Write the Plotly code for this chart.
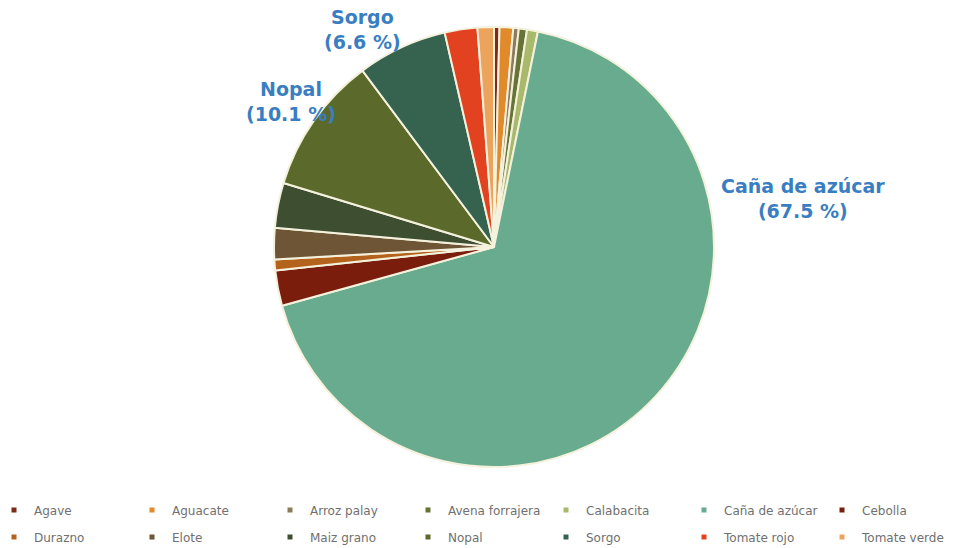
import plotly.graph_objects as go

# Crop shares (%) in legend order; slices run clockwise from 12 o'clock
cultivos = ["Agave", "Aguacate", "Arroz palay", "Avena forrajera", "Calabacita",
            "Caña de azúcar", "Cebolla", "Durazno", "Elote", "Maiz grano",
            "Nopal", "Sorgo", "Tomate rojo", "Tomate verde"]
porcentajes = [0.4, 1.0, 0.4, 0.6, 0.8,
               67.5, 2.6, 0.8, 2.3, 3.3,
               10.1, 6.6, 2.4, 1.2]
colores = ["#7d2a1a", "#e08a2c", "#8c7b5c", "#667436", "#a9b96c",
           "#69ab8f", "#7a1d0d", "#b3631c", "#6e5535", "#3d4e31",
           "#5b6a2b", "#36634f", "#e2421f", "#eca35c"]
destacados = ["Caña de azúcar", "Nopal", "Sorgo"]

W, H = 963, 548
MB = 80                      # bottom margin reserved for the legend rows
HP = H - MB                  # plot-area height
CX, CY, R = 494, 247, 220    # pie centre and radius, px from top-left


def px_x(x):
    return x / W


def px_y(y):
    return (HP - y) / HP


fig = go.Figure()
fig.add_trace(go.Pie(
    labels=cultivos, values=porcentajes, sort=False, direction="clockwise",
    rotation=0, textinfo="none", hoverinfo="label+percent",
    marker=dict(colors=colores, line=dict(color="#f4f1dc", width=2)),
    domain=dict(x=[px_x(CX - R), px_x(CX + R)], y=[px_y(CY + R), px_y(CY - R)]),
    showlegend=False,
))

# Legend entries: two rows of seven, each row its own legend
for i, (nombre, color) in enumerate(zip(cultivos, colores)):
    fig.add_trace(go.Scatter(
        x=[None], y=[None], mode="markers", name=nombre,
        marker=dict(symbol="square", size=5, color=color),
        legend="legend" if i < 7 else "legend2", hoverinfo="skip",
    ))

fuente_leyenda = dict(family="DejaVu Sans", size=12, color="#707070")
base_leyenda = dict(orientation="h", xanchor="left", yanchor="middle",
                    entrywidth=93, entrywidthmode="pixels", itemwidth=30,
                    font=fuente_leyenda, bgcolor="rgba(0,0,0,0)",
                    traceorder="normal", itemclick=False, itemdoubleclick=False)

# Outside labels for the three largest crops
posiciones = {"Caña de azúcar": (803, 198), "Nopal": (291, 101), "Sorgo": (362, 29)}
anotaciones = []
for nombre in destacados:
    v = porcentajes[cultivos.index(nombre)]
    lx, ly = posiciones[nombre]
    anotaciones.append(dict(
        x=px_x(lx), y=px_y(ly), xref="paper", yref="paper", showarrow=False,
        text=f"<b>{nombre}<br>({v:.1f} %)</b>", align="center",
        font=dict(family="DejaVu Sans", size=19, color="#3a7ec2"),
        xanchor="center", yanchor="middle",
    ))

fig.update_layout(
    width=W, height=H, margin=dict(l=0, r=0, t=0, b=MB, autoexpand=False),
    paper_bgcolor="white", plot_bgcolor="white",
    xaxis=dict(visible=False), yaxis=dict(visible=False),
    legend=dict(base_leyenda, x=px_x(-6), y=px_y(510)),
    legend2=dict(base_leyenda, x=px_x(-6), y=px_y(537)),
    annotations=anotaciones,
)

fig.write_html("out.html")
